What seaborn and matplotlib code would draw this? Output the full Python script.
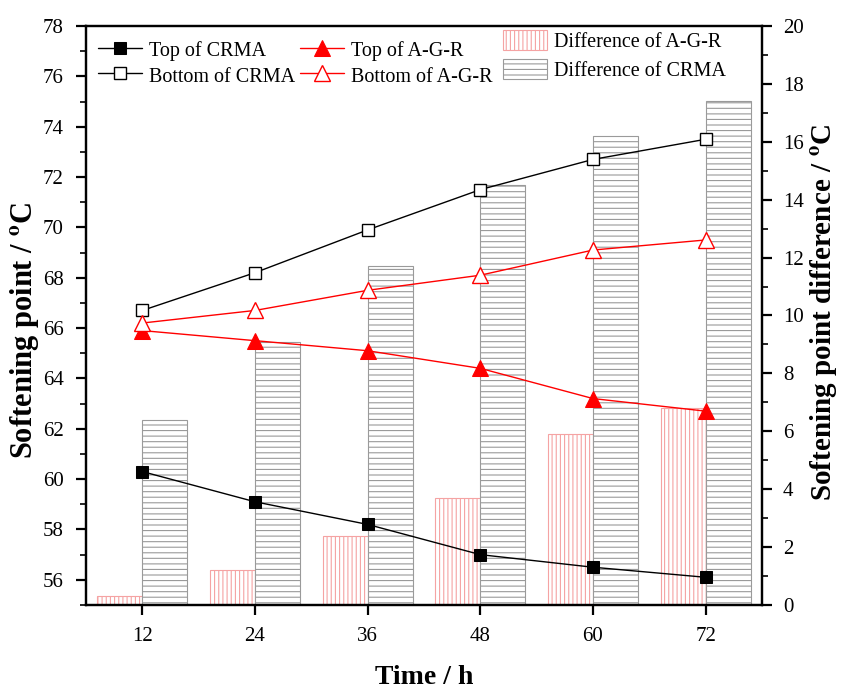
import matplotlib
matplotlib.use("Agg")
import matplotlib.pyplot as plt
from matplotlib.ticker import MultipleLocator
import seaborn as sns
import pandas as pd

time_h = [12, 24, 36, 48, 60, 72]
top_crma = [60.3, 59.1, 58.2, 57.0, 56.5, 56.1]
bottom_crma = [66.7, 68.2, 69.9, 71.5, 72.7, 73.5]
top_agr = [65.9, 65.5, 65.1, 64.4, 63.2, 62.7]
bottom_agr = [66.2, 66.7, 67.5, 68.1, 69.1, 69.5]
diff_agr = [0.3, 1.2, 2.4, 3.7, 5.9, 6.8]
diff_crma = [6.4, 9.1, 11.7, 14.5, 16.2, 17.4]

sns.set_style("ticks")
plt.rcParams['font.family'] = ['Liberation Serif', 'DejaVu Serif']
plt.rcParams['hatch.linewidth'] = 0.8
plt.rcParams['mathtext.fontset'] = 'stix'
plt.rcParams['text.color'] = 'black'
plt.rcParams['axes.labelcolor'] = 'black'
plt.rcParams['xtick.color'] = 'black'
plt.rcParams['ytick.color'] = 'black'

fig = plt.figure(figsize=(8.42, 6.93), dpi=100)
ax = fig.add_axes([0.1021, 0.127, 0.905 - 0.1021, 0.9625 - 0.127])
ax2 = ax.twinx()

df = pd.DataFrame({"t": time_h, "top_crma": top_crma, "bottom_crma": bottom_crma,
                   "top_agr": top_agr, "bottom_agr": bottom_agr})

bw = 4.8
b1 = ax2.bar([t - bw / 2 for t in time_h], diff_agr, width=bw, color='white',
             edgecolor='#f5a3a3', hatch='||||', linewidth=0.8, label='Difference of A-G-R')
b2 = ax2.bar([t + bw / 2 for t in time_h], diff_crma, width=bw, color='white',
             edgecolor='#9a9a9a', hatch='---', linewidth=0.8, label='Difference of CRMA')
ax2.set_ylim(0, 20)

sns.lineplot(data=df, x="t", y="top_crma", ax=ax, color='black', marker='s', markersize=8.5,
             markerfacecolor='black', markeredgecolor='black', linewidth=1, label='Top of CRMA')
sns.lineplot(data=df, x="t", y="bottom_crma", ax=ax, color='black', marker='s', markersize=8.5,
             markerfacecolor='white', markeredgecolor='black', markeredgewidth=1, linewidth=1,
             label='Bottom of CRMA')
sns.lineplot(data=df, x="t", y="top_agr", ax=ax, color='red', marker='^', markersize=11,
             markerfacecolor='red', markeredgecolor='red', linewidth=1, label='Top of A-G-R')
sns.lineplot(data=df, x="t", y="bottom_agr", ax=ax, color='red', marker='^', markersize=11,
             markerfacecolor='white', markeredgecolor='red', markeredgewidth=1, linewidth=1,
             label='Bottom of A-G-R')

ax.set_zorder(ax2.get_zorder() + 1)
ax.patch.set_visible(False)

ax.set_xlim(6, 78)
ax.set_ylim(55, 78)
ax.set_xticks(time_h)
ax.yaxis.set_major_locator(MultipleLocator(2))
ax.yaxis.set_minor_locator(MultipleLocator(1))
ax2.yaxis.set_major_locator(MultipleLocator(2))
ax2.yaxis.set_minor_locator(MultipleLocator(1))

for a in (ax, ax2):
    for s in a.spines.values():
        s.set_linewidth(1.6)
        s.set_color('black')
ax.tick_params(axis='x', which='major', direction='out', length=7, width=1.6,
               labelsize=15, pad=9)
ax.tick_params(axis='y', which='major', direction='out', length=7, width=1.6,
               labelsize=15, pad=9)
ax.tick_params(axis='y', which='minor', direction='out', length=4.5, width=1.2)
ax2.tick_params(axis='y', which='major', direction='out', length=7, width=1.6,
                labelsize=15, pad=8)
ax2.tick_params(axis='y', which='minor', direction='out', length=4.5, width=1.2)

ax.set_xlabel('Time / h', fontsize=20, fontweight='bold')
ax.set_ylabel(r'Softening point / $^\mathbf{o}$C', fontsize=22, fontweight='bold')
ax2.set_ylabel(r'Softening point difference / $^\mathbf{o}$C', fontsize=21, fontweight='bold')
ax.xaxis.set_label_coords(0.5, -0.104)
ax.yaxis.set_label_coords(-0.066, 0.475)
ax2.yaxis.set_label_coords(1.068, 0.505)

h1, l1 = ax.get_legend_handles_labels()
leg1 = ax.legend(h1, l1, ncol=2, loc='upper left', bbox_to_anchor=(0.0178, 0.977),
                 frameon=False, fontsize=14.5, handlelength=2.2, handleheight=1.15,
                 handletextpad=0.35, columnspacing=0.2, labelspacing=0.18,
                 borderaxespad=0.0, borderpad=0.0)
ax.add_artist(leg1)
ax.legend([b1, b2], ['Difference of A-G-R', 'Difference of CRMA'], ncol=1,
          loc='upper left', bbox_to_anchor=(0.617, 0.993),
          frameon=False, fontsize=14.5, handlelength=2.2, handleheight=1.15,
          handletextpad=0.35, labelspacing=0.35,
          borderaxespad=0.0, borderpad=0.0)

fig.savefig('out.png', dpi=100)
